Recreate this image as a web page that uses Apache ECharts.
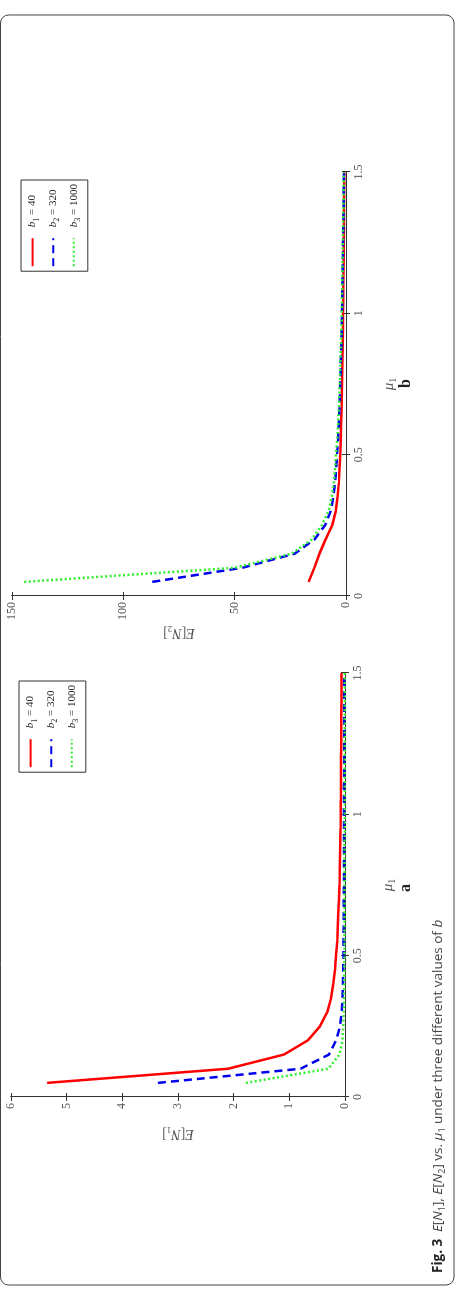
<!DOCTYPE html>
<html>
<head>
<meta charset="utf-8">
<script src="https://cdn.jsdelivr.net/npm/echarts@6/dist/echarts.min.js"></script>
<style>
  html, body { margin: 0; padding: 0; background: #fff; }
  #page { position: relative; width: 455px; height: 1296px; overflow: hidden; }
  /* the figure is laid out landscape and turned on its side */
  #fig { position: absolute; left: 0; top: 0; width: 1296px; height: 455px;
         transform-origin: 0 0; transform: translate(0, 1296px) rotate(-90deg); }
</style>
</head>
<body>
<div id="page"><div id="fig"></div></div>
<script>
var mu = [0.05, 0.1, 0.15, 0.2, 0.25, 0.3, 0.35, 0.4, 0.45, 0.5,
          0.55, 0.6, 0.65, 0.7, 0.75, 0.8, 0.85, 0.9, 0.95, 1.0,
          1.05, 1.1, 1.15, 1.2, 1.25, 1.3, 1.35, 1.4, 1.45, 1.5];

// panel a: E[N1]
var n1_b40 = [5.35, 2.1, 1.1, 0.67, 0.45, 0.32, 0.25, 0.21, 0.18, 0.16,
              0.14, 0.13, 0.12, 0.11, 0.1, 0.095, 0.09, 0.085, 0.08, 0.078,
              0.075, 0.073, 0.071, 0.07, 0.068, 0.067, 0.066, 0.065, 0.064, 0.063];
var n1_b320 = [3.36, 0.8, 0.29, 0.16, 0.09, 0.06, 0.045, 0.037, 0.032, 0.028,
               0.026, 0.024, 0.022, 0.021, 0.02, 0.019, 0.018, 0.018, 0.017, 0.017,
               0.016, 0.016, 0.015, 0.015, 0.015, 0.014, 0.014, 0.014, 0.013, 0.013];
var n1_b1000 = [1.78, 0.3, 0.1, 0.045, 0.03, 0.022, 0.017, 0.014, 0.012, 0.011,
                0.01, 0.009, 0.009, 0.008, 0.008, 0.007, 0.007, 0.007, 0.006, 0.006,
                0.006, 0.006, 0.005, 0.005, 0.005, 0.005, 0.005, 0.005, 0.004, 0.004];

// panel b: E[N2]
var n2_b40 = [16.8, 14.2, 11.9, 9.2, 6.2, 4.6, 3.8, 3.2, 2.9, 2.6,
              2.4, 2.2, 2.0, 1.9, 1.8, 1.7, 1.6, 1.5, 1.4, 1.3,
              1.25, 1.2, 1.1, 1.05, 1.0, 0.95, 0.9, 0.85, 0.8, 0.8];
var n2_b320 = [87, 46.5, 23, 14.2, 9.4, 6.9, 5.7, 4.9, 4.4, 4.0,
               3.6, 3.3, 3.0, 2.8, 2.6, 2.4, 2.2, 2.0, 1.9, 1.8,
               1.7, 1.6, 1.5, 1.4, 1.3, 1.2, 1.1, 1.0, 1.0, 0.9];
var n2_b1000 = [144.5, 49.8, 24.4, 15.4, 10.9, 7.9, 6.4, 5.5, 4.9, 4.5,
                4.0, 3.6, 3.3, 3.0, 2.8, 2.6, 2.4, 2.2, 2.0, 1.9,
                1.8, 1.7, 1.6, 1.5, 1.4, 1.3, 1.2, 1.1, 1.0, 1.0];

var seriesNames = ['b1 = 40', 'b2 = 320', 'b3 = 1000'];
var legendText = {
    'b1 = 40': '{i|b}{s|1}{t| = 40}',
    'b2 = 320': '{i|b}{s|2}{t| = 320}',
    'b3 = 1000': '{i|b}{s|3}{t| = 1000}'
};

var serif = '"Liberation Serif", "DejaVu Serif", serif';
var sans = '"Open Sans", "Noto Sans", sans-serif';
var axisColor = '#333';
var labelColor = '#555';

function pairs(ys) {
    return mu.map(function (x, i) { return [x, ys[i]]; });
}

var styles = [
    { color: '#ff0000', type: 'solid' },
    { color: '#0000ee', type: [8, 5] },
    { color: '#2ef02e', type: [2, 2.5] }
];

function lineSeries(idx, ys, gridIdx) {
    return {
        type: 'line',
        name: seriesNames[idx],
        xAxisIndex: gridIdx * 2,
        yAxisIndex: gridIdx * 2,
        data: pairs(ys),
        symbol: 'none',
        silent: true,
        lineStyle: { color: styles[idx].color, type: styles[idx].type, width: 2.5, cap: 'butt' },
        itemStyle: { color: styles[idx].color }
    };
}

function xAxes(gridIdx) {
    return [{
        gridIndex: gridIdx, type: 'value', position: 'bottom',
        min: 0, max: 1.5, interval: 0.5,
        axisLine: { lineStyle: { color: axisColor } },
        axisTick: { inside: true, length: 4, lineStyle: { color: axisColor } },
        axisLabel: { color: labelColor, fontFamily: serif, fontSize: 12, margin: 7 },
        splitLine: { show: false },
        name: '{i|μ}{s|1}', nameLocation: 'middle', nameGap: 34,
        nameTextStyle: {
            rich: {
                i: { fontFamily: serif, fontStyle: 'italic', fontSize: 15, color: labelColor, lineHeight: 18, verticalAlign: 'middle' },
                s: { fontFamily: serif, fontSize: 10, color: labelColor, lineHeight: 10, verticalAlign: 'bottom' }
            }
        }
    }, {
        gridIndex: gridIdx, type: 'value', position: 'top',
        min: 0, max: 1.5, interval: 0.5,
        axisLine: { lineStyle: { color: axisColor } },
        axisTick: { inside: true, length: 4, lineStyle: { color: axisColor } },
        axisLabel: { show: false },
        splitLine: { show: false }
    }];
}

function yAxes(gridIdx, max, interval, sub) {
    return [{
        gridIndex: gridIdx, type: 'value', position: 'left',
        min: 0, max: max, interval: interval,
        axisLine: { show: true, lineStyle: { color: axisColor } },
        axisTick: { show: true, inside: true, length: 4, lineStyle: { color: axisColor } },
        axisLabel: { color: labelColor, fontFamily: serif, fontSize: 12, margin: 6 },
        splitLine: { show: false },
        name: '{i|E}{t|[}{i|N}{s|' + sub + '}{t|]}', nameLocation: 'middle', nameGap: 28,
        nameTextStyle: {
            rich: {
                i: { fontFamily: serif, fontStyle: 'italic', fontSize: 14, color: labelColor, lineHeight: 18, verticalAlign: 'middle' },
                t: { fontFamily: serif, fontSize: 14, color: labelColor, lineHeight: 18, verticalAlign: 'middle' },
                s: { fontFamily: serif, fontSize: 9, color: labelColor, lineHeight: 10, verticalAlign: 'bottom' }
            }
        }
    }, {
        gridIndex: gridIdx, type: 'value', position: 'right',
        min: 0, max: max, interval: interval,
        axisLine: { show: true, lineStyle: { color: axisColor } },
        axisTick: { show: true, inside: true, length: 4, lineStyle: { color: axisColor } },
        axisLabel: { show: false },
        splitLine: { show: false }
    }];
}

function legendAt(right, top) {
    return {
        data: seriesNames,
        right: right, top: top,
        orient: 'vertical',
        itemWidth: 28, itemHeight: 14, itemGap: 7,
        padding: [6, 4, 6, 4],
        borderColor: '#333', borderWidth: 1,
        selectedMode: false,
        // line sample only, no marker dot
        itemStyle: { opacity: 0, color: 'transparent', borderColor: 'transparent', borderWidth: 0 },
        formatter: function (name) { return legendText[name]; },
        textStyle: {
            rich: {
                i: { fontFamily: serif, fontStyle: 'italic', fontSize: 11, color: '#222', lineHeight: 16, verticalAlign: 'middle', padding: [0, 0, 0, 6] },
                t: { fontFamily: serif, fontSize: 11, color: '#222', lineHeight: 16, verticalAlign: 'middle' },
                s: { fontFamily: serif, fontSize: 8, color: '#222', lineHeight: 9, verticalAlign: 'bottom' }
            }
        }
    };
}

var chart = echarts.init(document.getElementById('fig'), null, { width: 1296, height: 455 });
chart.setOption({
    animation: false,
    backgroundColor: '#fff',
    grid: [
        { left: 199, top: 11, width: 424, height: 334 },
        { left: 700, top: 12, width: 424, height: 334 }
    ],
    xAxis: xAxes(0).concat(xAxes(1)),
    yAxis: yAxes(0, 6, 1, '1').concat(yAxes(1, 150, 50, '2')),
    legend: [legendAt(681, 19), legendAt(180, 21)],
    series: [
        lineSeries(0, n1_b40, 0),
        lineSeries(1, n1_b320, 0),
        lineSeries(2, n1_b1000, 0),
        lineSeries(0, n2_b40, 1),
        lineSeries(1, n2_b320, 1),
        lineSeries(2, n2_b1000, 1)
    ],
    graphic: [
        {
            type: 'rect', silent: true,
            shape: { x: 11, y: 0.5, width: 1270, height: 453.5, r: 8 },
            style: { fill: 'none', stroke: '#444', lineWidth: 1 }
        },
        {
            type: 'text', left: 404, top: 398, silent: true,
            style: { text: 'a', font: 'bold 16px "Liberation Serif", serif', fill: '#222' }
        },
        {
            type: 'text', left: 908, top: 398, silent: true,
            style: { text: 'b', font: 'bold 16px "Liberation Serif", serif', fill: '#222' }
        },
        {
            type: 'text', left: 23, top: 431, silent: true,
            style: {
                text: '{fb|Fig. 3}  {i|E}{t|[}{i|N}{s|1}{t|], }{i|E}{t|[}{i|N}{s|2}{t|] vs. }{i|μ}{s|1}{t| under three different values of }{i|b}',
                rich: {
                    fb: { fontFamily: sans, fontWeight: 'bold', fontSize: 13.5, fill: '#222', lineHeight: 18, verticalAlign: 'middle' },
                    t: { fontFamily: sans, fontSize: 13.5, fill: '#444', lineHeight: 18, verticalAlign: 'middle' },
                    i: { fontFamily: sans, fontStyle: 'italic', fontSize: 13.5, fill: '#444', lineHeight: 18, verticalAlign: 'middle' },
                    s: { fontFamily: sans, fontSize: 9, fill: '#444', lineHeight: 11, verticalAlign: 'bottom' }
                }
            }
        }
    ]
});
</script>
</body>
</html>
